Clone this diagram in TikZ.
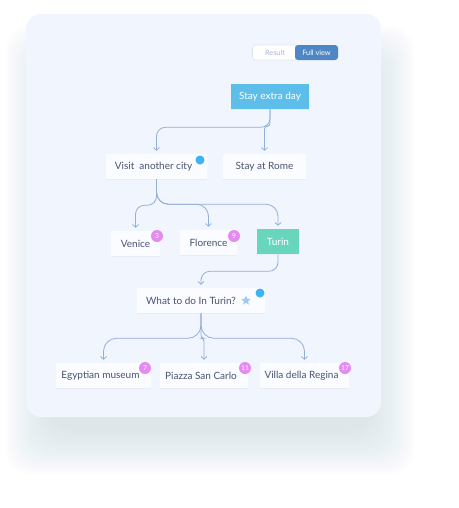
\documentclass[tikz,border=0pt]{standalone}
\usepackage{fontspec}
\setmainfont{Lato}
\usetikzlibrary{arrows.meta,shadows,shapes.geometric}
\newdimen\pxu \pxu=0.75pt
\definecolor{cardbg}{HTML}{F1F5FE}
\definecolor{shadowc}{HTML}{B8C6E6}
\definecolor{boxbg}{HTML}{FAFCFF}
\definecolor{ink}{HTML}{4A5270}
\definecolor{linkc}{HTML}{91AFD8}
\definecolor{extrac}{HTML}{5DBEEA}
\definecolor{turinc}{HTML}{68D5BD}
\definecolor{badgec}{HTML}{E58AF0}
\definecolor{dotc}{HTML}{3DB2F6}
\definecolor{starc}{HTML}{A2C6F2}
\definecolor{fullc}{HTML}{4F86C5}
\definecolor{togglec}{HTML}{DCE3EE}
\definecolor{resultc}{HTML}{A9B9D3}

\begin{document}
\begin{tikzpicture}[x=0.75pt,y=-0.75pt,
    >={Straight Barb[length=2pt,width=4.5pt]},
    box/.style={fill=boxbg, minimum height=25\pxu, inner sep=0pt, text=ink,
        font=\fontsize{7.5}{9}\selectfont,
        drop shadow={opacity=0.07, shadow xshift=0pt, shadow yshift=-1pt}},
    link/.style={draw=linkc, line width=0.6pt, ->, rounded corners=9\pxu, shorten >=3\pxu},
    badge/.style={circle, fill=badgec, minimum size=12\pxu, inner sep=0pt, text=white,
        font=\fontsize{5}{5}\selectfont},
    dot/.style={circle, fill=dotc, minimum size=9\pxu, inner sep=0pt},
    tab/.style={minimum width=43\pxu, minimum height=15\pxu, inner sep=0pt,
        rounded corners=3\pxu, font=\fontsize{5.5}{6}\selectfont}]
    \useasboundingbox[fill=white] (0,0) rectangle (459,508);
    \foreach \i in {1,...,22}
        \fill[shadowc, opacity=0.02, rounded corners=24\pxu]
            (52-\i*2.1,72-\i*2.1) rectangle (368+\i*2.1,428+\i*2.1);
    \fill[cardbg, rounded corners=15\pxu] (26,14) rectangle (381,417);

    \node[tab, fill=white, draw=togglec, text=resultc, minimum width=45\pxu] (result) at (275,52.5) {Result};
    \node[tab, fill=fullc, text=white] (full) at (316.5,52.5) {Full view};

    \node[box, fill=extrac, text=white, minimum width=78\pxu] (extra) at (270,96.5) {Stay extra day};
    \node[box, minimum width=101\pxu] (visit) at (156.5,166.5) {Visit\ \ another city\kern6\pxu};
    \node[box, minimum width=83\pxu] (rome) at (264.5,166.5) {Stay at Rome};
    \node[box, minimum width=49\pxu] (venice) at (135.5,243.5) {Venice};
    \node[box, minimum width=57\pxu] (florence) at (208.5,242.5) {Florence};
    \node[box, fill=turinc, text=white, minimum width=42\pxu] (turin) at (278,241.5) {Turin};
    \node[box, minimum width=128\pxu] (todo) at (201,300.5) {What to do In Turin?\kern20\pxu};
    \node[box, minimum width=95\pxu] (egypt) at (103.5,375.5) {Egyptian museum\kern6\pxu};
    \node[box, minimum width=88\pxu] (piazza) at (204,375.5) {Piazza San Carlo\kern6\pxu};
    \node[box, minimum width=89\pxu] (villa) at (304.5,375.5) {Villa della Regina\kern6\pxu};

    \node[dot] (visitdot) at (200,160) {};
    \node[dot] (tododot) at (260,293) {};
    \node[star, star points=5, star point ratio=2.3, fill=starc, minimum size=10\pxu, inner sep=0pt] (todostar) at (246,300.5) {};
    \node[badge] (venicebadge) at (157,236) {3};
    \node[badge] (florencebadge) at (234,236) {9};
    \node[badge] (egyptbadge) at (145,368) {7};
    \node[badge] (piazzabadge) at (245,368) {11};
    \node[badge] (villabadge) at (345,368) {17};

    \draw[link] (extra.south) -- ++(0,18) -| (visit.north);
    \draw[link, rounded corners=3\pxu] (extra.south) -- ++(0,17) -| (rome.north);
    \draw[link] (visit.south) -- ++(0,26) -| (venice.north);
    \draw[link, rounded corners=12\pxu] (visit.south) -- ++(0,25) -| (florence.north);
    \draw[link, rounded corners=12\pxu] (visit.south) -- ++(0,25) -| (turin.north);
    \draw[link] (turin.south) -- ++(0,17) -| (todo.north);
    \draw[link, rounded corners=13\pxu] (todo.south) -- ++(0,25) -| (egypt.north);
    \draw[link, rounded corners=3\pxu] (todo.south) -- ++(0,25) -| (piazza.north);
    \draw[link, rounded corners=13\pxu] (todo.south) -- ++(0,25) -| (villa.north);
\end{tikzpicture}
\end{document}
